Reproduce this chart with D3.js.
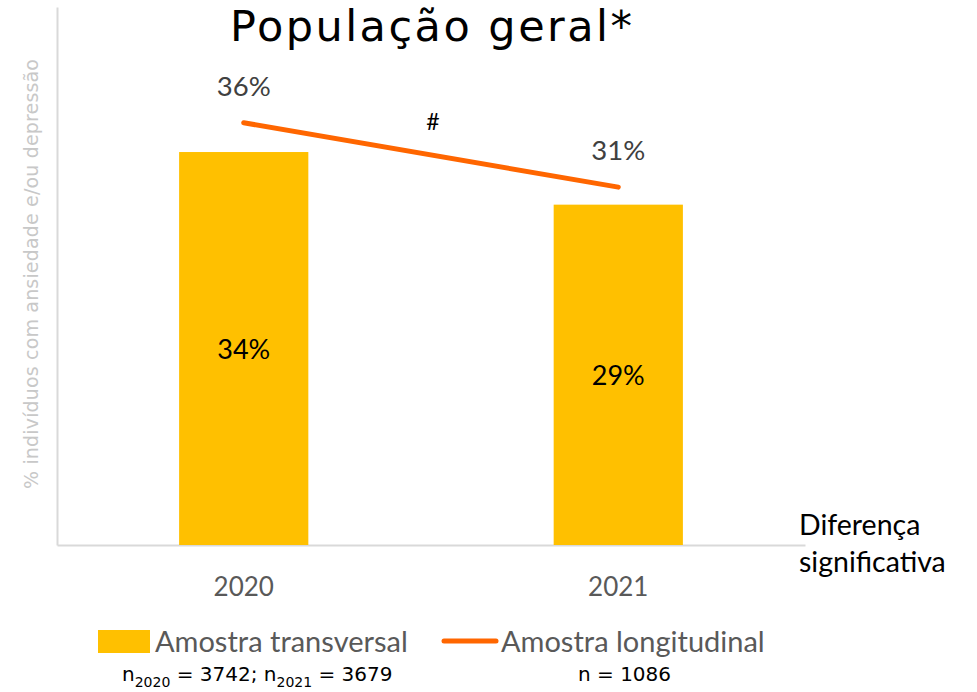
<!DOCTYPE html>
<html>
<head>
<meta charset="utf-8">
<script src="https://cdn.jsdelivr.net/npm/d3@7"></script>
<style>
  body { margin: 0; background: #fff; }
  .calib { font-family: Lato, "Open Sans", sans-serif; }
  .goth { font-family: "DejaVu Sans", "Noto Sans", sans-serif; }
</style>
</head>
<body>
<div id="chart"></div>
<script>
var width = 977;
var height = 692;

// data
var categories = ["2020", "2021"];
var transversal = [33.6, 29.1];
var longitudinal = [36.1, 30.6];
var legendLabels = ["Amostra transversal", "Amostra longitudinal"];
var title = "População geral*";
var yTitle = "% indivíduos com ansiedade e/ou depressão";

var barColor = "#FFC000";
var lineColor = "#FF6600";
var axisColor = "#d9d9d9";

var svg = d3.select("#chart").append("svg")
  .attr("width", width)
  .attr("height", height);

var x = d3.scaleBand()
  .domain(categories)
  .range([57, 805])
  .paddingInner(0.655)
  .paddingOuter(0.326);

var y = d3.scaleLinear()
  .domain([0, 46])
  .range([545, 7]);

var fmt = function(v) { return d3.format(".0f")(v) + "%"; };

// axes
var xAxis = svg.append("g")
  .attr("transform", "translate(0," + y(0) + ")")
  .call(d3.axisBottom(x).tickSize(0).tickPadding(33));
xAxis.select(".domain").attr("stroke", axisColor).attr("stroke-width", 2);
xAxis.selectAll("text")
  .attr("class", "calib")
  .style("font-size", "26px")
  .attr("fill", "#595959");

var yAxis = svg.append("g")
  .attr("transform", "translate(" + x.range()[0] + ",0)")
  .call(d3.axisLeft(y).ticks(0).tickSize(0));
yAxis.select(".domain").attr("stroke", axisColor).attr("stroke-width", 2);
yAxis.selectAll("text").remove();

// bars
svg.selectAll("rect.bar")
  .data(transversal)
  .enter()
  .append("rect")
  .attr("class", "bar")
  .attr("x", function(d, i) { return x(categories[i]); })
  .attr("y", function(d) { return y(d); })
  .attr("width", x.bandwidth())
  .attr("height", function(d) { return y(0) - y(d); })
  .attr("fill", barColor);

svg.selectAll("text.barlabel")
  .data(transversal)
  .enter()
  .append("text")
  .attr("class", "barlabel calib")
  .attr("x", function(d, i) { return x(categories[i]) + x.bandwidth() / 2; })
  .attr("y", function(d) { return (y(d) + y(0)) / 2; })
  .attr("dy", "0.38em")
  .attr("text-anchor", "middle")
  .style("font-size", "27px")
  .attr("fill", "#000")
  .text(fmt);

// line
var line = d3.line()
  .x(function(d, i) { return x(categories[i]) + x.bandwidth() / 2; })
  .y(function(d) { return y(d); });

svg.append("path")
  .datum(longitudinal)
  .attr("d", line)
  .attr("fill", "none")
  .attr("stroke", lineColor)
  .attr("stroke-width", 5)
  .attr("stroke-linecap", "round");

svg.selectAll("text.linelabel")
  .data(longitudinal)
  .enter()
  .append("text")
  .attr("class", "linelabel calib")
  .attr("x", function(d, i) { return x(categories[i]) + x.bandwidth() / 2; })
  .attr("y", function(d) { return y(d) - 27; })
  .attr("text-anchor", "middle")
  .style("font-size", "27.5px")
  .attr("fill", "#404040")
  .text(fmt);

// significance mark
svg.append("text")
  .attr("class", "calib")
  .attr("x", 433)
  .attr("y", 130)
  .attr("text-anchor", "middle")
  .style("font-size", "23px")
  .attr("fill", "#000")
  .text("#");

// title
svg.append("text")
  .attr("class", "goth")
  .attr("x", 431)
  .attr("y", 41)
  .attr("text-anchor", "middle")
  .attr("textLength", 402)
  .attr("lengthAdjust", "spacing")
  .style("font-size", "43px")
  .attr("fill", "#000")
  .text(title);

// y title
svg.append("text")
  .attr("class", "goth")
  .attr("transform", "translate(38,274) rotate(-90)")
  .attr("text-anchor", "middle")
  .attr("textLength", 430)
  .attr("lengthAdjust", "spacing")
  .style("font-size", "19px")
  .attr("fill", "#c8c8c8")
  .text(yTitle);

// side note
var note = svg.append("text")
  .attr("class", "calib")
  .style("font-size", "28.5px")
  .attr("fill", "#000");
note.append("tspan").attr("x", 799).attr("y", 535).text("Diferença");
note.append("tspan").attr("x", 799).attr("y", 572).text("significativa");

// legend
var legend = svg.append("g").attr("class", "calib");
legend.append("rect")
  .attr("x", 98).attr("y", 630)
  .attr("width", 52).attr("height", 23)
  .attr("fill", barColor);
legend.append("text")
  .attr("x", 155).attr("y", 652)
  .style("font-size", "29px")
  .attr("fill", "#595959")
  .text(legendLabels[0]);
legend.append("line")
  .attr("x1", 444).attr("x2", 496)
  .attr("y1", 641).attr("y2", 641)
  .attr("stroke", lineColor)
  .attr("stroke-width", 5)
  .attr("stroke-linecap", "round");
legend.append("text")
  .attr("x", 501).attr("y", 652)
  .style("font-size", "29px")
  .attr("fill", "#595959")
  .text(legendLabels[1]);

// sample sizes
var n1 = svg.append("text")
  .attr("class", "goth")
  .attr("x", 122).attr("y", 681)
  .style("font-size", "20px")
  .attr("fill", "#000");
n1.append("tspan").text("n");
n1.append("tspan").attr("dy", 6).style("font-size", "14px").text("2020");
n1.append("tspan").attr("dy", -6).text(" = 3742; n");
n1.append("tspan").attr("dy", 6).style("font-size", "14px").text("2021");
n1.append("tspan").attr("dy", -6).text(" = 3679");

svg.append("text")
  .attr("class", "goth")
  .attr("x", 578).attr("y", 681)
  .style("font-size", "20px")
  .attr("fill", "#000")
  .text("n = 1086");
</script>
</body>
</html>
